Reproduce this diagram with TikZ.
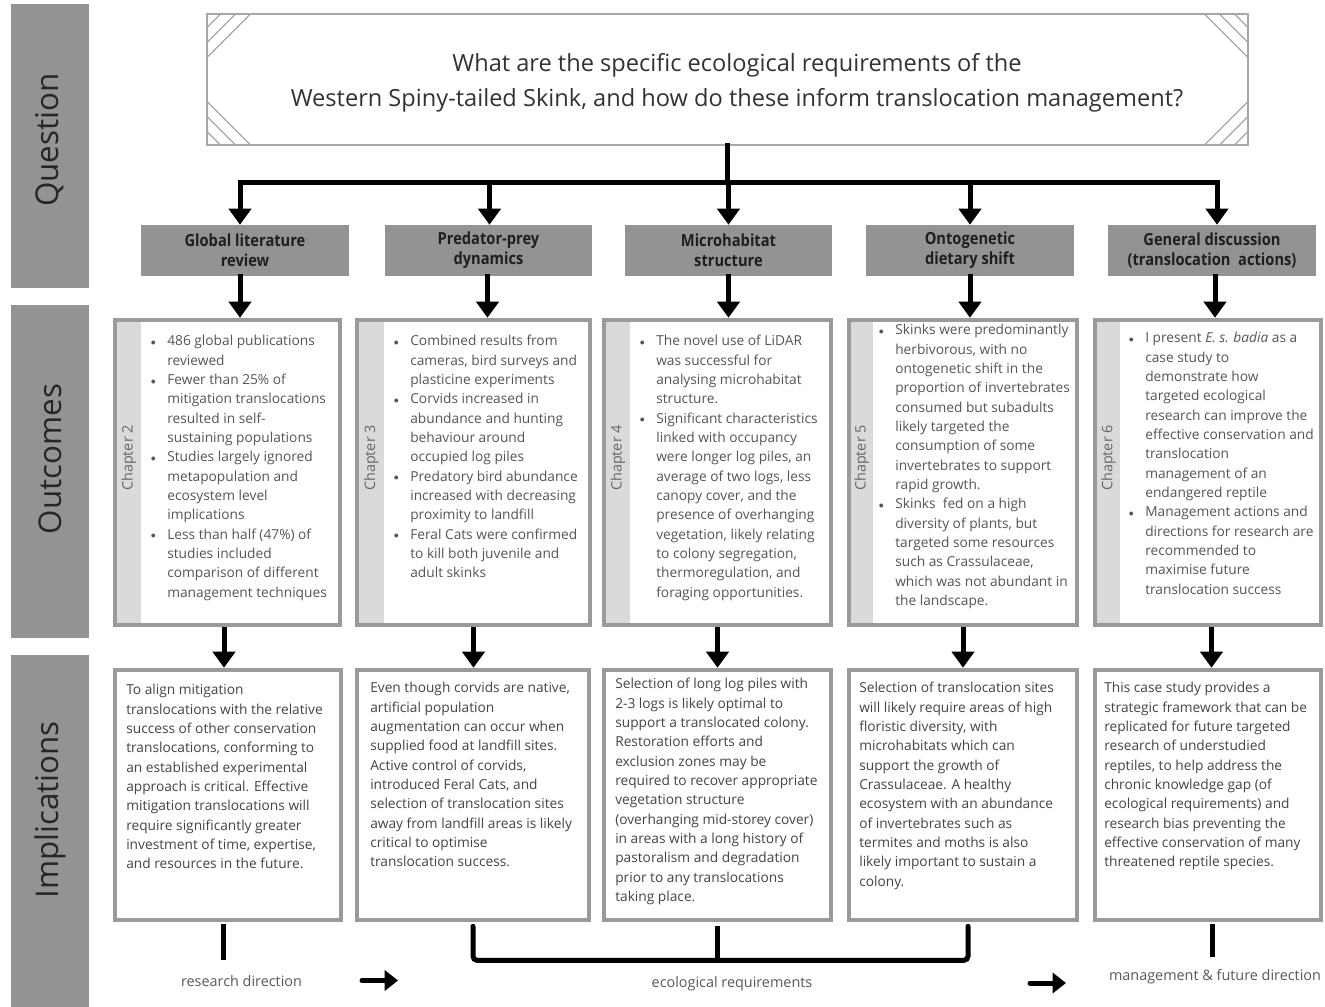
\documentclass[tikz,border=0pt]{standalone}
\usepackage{fontspec}
\setmainfont{Open Sans}
\newfontfamily\hdfont[FakeStretch=0.88]{Open Sans}
\usetikzlibrary{arrows.meta,calc,fit}
\definecolor{barcol}{HTML}{939393}
\definecolor{boxedge}{HTML}{9A9A9A}
\definecolor{stripcol}{HTML}{DADADA}
\definecolor{qedge}{HTML}{A8A8A8}
\definecolor{outtxt}{HTML}{555555}
\definecolor{imptxt}{HTML}{444444}
\newcommand\bul{\makebox[12.4pt][l]{\raisebox{0.05ex}{\scalebox{0.75}{$\bullet$}}}}
\newcommand\ind{\makebox[12.4pt]{}}
\tikzset{
  bar/.style={fill=barcol, inner sep=0pt, draw=none},
  sidelbl/.style={rotate=90, font=\fontsize{23.5pt}{28pt}\selectfont, text=black!85},
  hdr/.style={fill=barcol, inner sep=0pt},
  hdrtxt/.style={align=center, font=\hdfont\bfseries\fontsize{12.5pt}{15pt}\selectfont, text=black!88},
  obox/.style={draw=boxedge, line width=3.4pt, inner sep=0pt},
  stripbox/.style={fill=stripcol, inner sep=0pt},
  chap/.style={rotate=90, font=\fontsize{10.8pt}{12pt}\selectfont, text=black!60},
  otxt/.style={anchor=north west, inner sep=0pt, align=left, font=\fontsize{10.3pt}{14.5pt}\selectfont, text=outtxt},
  itxt/.style={anchor=north west, inner sep=0pt, align=left, font=\fontsize{10.3pt}{14.5pt}\selectfont, text=imptxt},
  lbl/.style={inner sep=0pt, font=\fontsize{10.8pt}{12pt}\selectfont, text=black!65},
  conn/.style={line width=3.75pt, black, line cap=rect},
  arr/.style={conn, -{Triangle[width=16.5pt,length=12pt]}},
  arrsmall/.style={line width=3.75pt, black, line cap=round, -{Triangle[width=15pt,length=10pt]}},
  hatch/.style={draw=qedge, line width=1pt}
}
\begin{document}
\begin{tikzpicture}[x=0.75pt,y=-0.75pt]
\useasboundingbox (0,0) rectangle (1325,1007);
\fill[white] (0,0) rectangle (1325,1007);

% side bars
\node[bar, fit={(11,4) (89,288)}] (sbq) {};
\node[bar, fit={(11,305) (89,638)}] (sbo) {};
\node[bar, fit={(11,655) (89,1007)}] (sbi) {};
\node[sidelbl] (lq) at (50,140) {Question};
\node[sidelbl] (lo) at (50,459) {Outcomes};
\node[sidelbl] (li) at (50,810) {Implications};

% question box
\node[draw=qedge, line width=1.1pt, inner sep=0pt, fit={(207,14) (1248,145)}] (q) {};
\foreach \d in {15,30,45}{
  \draw[hatch] ($(q.north west)+(0,\d)$) -- ($(q.north west)+(\d,0)$);
  \draw[hatch] ($(q.south west)+(0,-\d)$) -- ($(q.south west)+(\d,0)$);
  \draw[hatch] ($(q.north east)+(0,\d)$) -- ($(q.north east)+(-\d,0)$);
  \draw[hatch] ($(q.south east)+(0,-\d)$) -- ($(q.south east)+(-\d,0)$);
}
\node[font=\fontsize{17.7pt}{26.25pt}\selectfont, text=black!80, align=center] (qt) at (737,83)
 {What are the specific ecological requirements of the\\Western Spiny-tailed Skink, and how do these inform translocation management?};

% header boxes
\node[hdr, fit={(141,225) (349,276)}] (h1) {};
\node[hdr, fit={(385,225) (592,276)}] (h2) {};
\node[hdr, fit={(625,225) (832,276)}] (h3) {};
\node[hdr, fit={(866,225) (1074,276)}] (h4) {};
\node[hdr, fit={(1108,225) (1316,276)}] (h5) {};
\node[hdrtxt] (ht1) at (h1.center) {Global literature\\review};
\node[hdrtxt] (ht2) at (h2.center) {Predator-prey\\dynamics};
\node[hdrtxt] (ht3) at (h3.center) {Microhabitat\\structure};
\node[hdrtxt] (ht4) at (h4.center) {Ontogenetic\\dietary shift};
\node[hdrtxt] (ht5) at (h5.center) {General discussion\\(translocation\ \ actions)};

% tree
\coordinate (t1) at ($(h1.north)+(-5,0)$);
\coordinate (t2) at ($(h2.north)+(1,0)$);
\coordinate (t3) at ($(h3.north)+(0,0)$);
\coordinate (t4) at ($(h4.north)+(0,0)$);
\coordinate (t5) at ($(h5.north)+(5,0)$);
\coordinate (hl) at ($(t1)+(0,-42)$);
\coordinate (hr) at ($(t5)+(0,-42)$);
\draw[conn] (q.south) -- (q.south |- hl);
\draw[conn] (hl) -- (hr);
\foreach \k in {1,...,5}{ \draw[arr] (t\k |- hl) -- (t\k); }

% outcome boxes
\node[obox, fit={(115,320) (340,625)}] (o1) {};
\node[obox, fit={(357,320) (590,625)}] (o2) {};
\node[obox, fit={(604,320) (831,625)}] (o3) {};
\node[obox, fit={(849,320) (1077,625)}] (o4) {};
\node[obox, fit={(1095,320) (1321,625)}] (o5) {};
\node[stripbox, fit={(117,322) (141,623)}] (s1) {};
\node[stripbox, fit={(359,322) (384,623)}] (s2) {};
\node[stripbox, fit={(606,322) (630,623)}] (s3) {};
\node[stripbox, fit={(851,322) (873,623)}] (s4) {};
\node[stripbox, fit={(1097,322) (1120,623)}] (s5) {};
\node[chap] (c2l) at (s1.center |- 0,458) {Chapter 2};
\node[chap] (c3l) at (s2.center |- 0,458) {Chapter 3};
\node[chap] (c4l) at (s3.center |- 0,458) {Chapter 4};
\node[chap] (c5l) at (s4.center |- 0,458) {Chapter 5};
\node[chap] (c6l) at (s5.center |- 0,458) {Chapter 6};

\node[otxt] (ot1) at (150.5,335) {\bul 486 global publications\\\ind reviewed\\\bul Fewer than 25\% of\\\ind mitigation translocations\\\ind resulted in self-\\\ind sustaining populations\\\bul Studies largely ignored\\\ind metapopulation and\\\ind ecosystem level\\\ind implications\\\bul Less than half (47\%) of\\\ind studies included\\\ind comparison of different\\\ind management techniques};
\node[otxt] (ot2) at (393.5,335) {\bul Combined results from\\\ind cameras, bird surveys and\\\ind plasticine experiments\\\bul Corvids increased in\\\ind abundance and hunting\\\ind behaviour around\\\ind occupied log piles\\\bul Predatory bird abundance\\\ind increased with decreasing\\\ind proximity to landfill\\\bul Feral Cats were confirmed\\\ind to kill both juvenile and\\\ind adult skinks};
\node[otxt] (ot3) at (639.5,335) {\bul The novel use of LiDAR\\\ind was successful for\\\ind analysing microhabitat\\\ind structure.\\\bul Significant characteristics\\\ind linked with occupancy\\\ind were longer log piles, an\\\ind average of two logs, less\\\ind canopy cover, and the\\\ind presence of overhanging\\\ind vegetation, likely relating\\\ind to colony segregation,\\\ind thermoregulation, and\\\ind foraging opportunities.};
\node[otxt] (ot4) at (878.5,324) {\bul Skinks were predominantly\\\ind herbivorous, with no\\\ind ontogenetic shift in the\\\ind proportion of invertebrates\\\ind consumed but subadults\\\ind likely targeted the\\\ind consumption of some\\\ind invertebrates to support\\\ind rapid growth.\\\bul Skinks\ \ fed on a high\\\ind diversity of plants, but\\\ind targeted some resources\\\ind such as Crassulaceae,\\\ind which was not abundant in\\\ind the landscape.};
\node[otxt] (ot5) at (1128.5,332) {\bul I present \textit{E. s. badia} as a\\\ind case study to\\\ind demonstrate how\\\ind targeted ecological\\\ind research can improve the\\\ind effective conservation and\\\ind translocation\\\ind management of an\\\ind endangered reptile\\\bul Management actions and\\\ind directions for research are\\\ind recommended to\\\ind maximise future\\\ind translocation success};

% implication boxes
\node[obox, fit={(115,670) (341,920)}] (i1) {};
\node[obox, fit={(357,670) (589,920)}] (i2) {};
\node[obox, fit={(604,670) (831,920)}] (i3) {};
\node[obox, fit={(849,670) (1077,920)}] (i4) {};
\node[obox, fit={(1095,670) (1321,920)}] (i5) {};

\node[itxt] (it1) at (126,684) {To align mitigation\\translocations with the relative\\success of other conservation\\translocations, conforming to\\an established experimental\\approach is critical. Effective\\mitigation translocations will\\require significantly greater\\investment of time, expertise,\\and resources in the future.};
\node[itxt] (it2) at (370,682) {Even though corvids are native,\\artificial population\\augmentation can occur when\\supplied food at landfill sites.\\Active control of corvids,\\introduced Feral Cats, and\\selection of translocation sites\\away from landfill areas is likely\\critical to optimise\\translocation success.};
\node[itxt] (it3) at (615,678) {Selection of long log piles with\\2-3 logs is likely optimal to\\support a translocated colony.\\Restoration efforts and\\exclusion zones may be\\required to recover appropriate\\vegetation structure\\(overhanging mid-storey cover)\\in areas with a long history of\\pastoralism and degradation\\prior to any translocations\\taking place.};
\node[itxt] (it4) at (859,682) {Selection of translocation sites\\will likely require areas of high\\floristic diversity, with\\microhabitats which can\\support the growth of\\Crassulaceae. A healthy\\ecosystem with an abundance\\of invertebrates such as\\termites and moths is also\\likely important to sustain a\\colony.};
\node[itxt] (it5) at (1104,682) {This case study provides a\\strategic framework that can be\\replicated for future targeted\\research of understudied\\reptiles, to help address the\\chronic knowledge gap (of\\ecological requirements) and\\research bias preventing the\\effective conservation of many\\threatened reptile species.};

% header -> outcome arrows
\coordinate (a1) at ($(h1.south)+(-5,0)$);
\coordinate (a2) at ($(h2.south)+(-1,0)$);
\coordinate (a3) at ($(h3.south)+(0,0)$);
\coordinate (a4) at ($(h4.south)+(0,0)$);
\coordinate (a5) at ($(h5.south)+(3,0)$);
\draw[arr] (a1) -- (a1 |- o1.north);
\draw[arr] (a2) -- (a2 |- o2.north);
\draw[arr] (a3) -- (a3 |- o3.north);
\draw[arr] (a4) -- (a4 |- o4.north);
\draw[arr] (a5) -- (a5 |- o5.north);

% outcome -> implication arrows
\coordinate (b1) at ($(o1.south)+(-3.5,2)$);
\coordinate (b2) at ($(o2.south)+(0,2)$);
\coordinate (b3) at ($(o3.south)+(0,2)$);
\coordinate (b4) at ($(o4.south)+(0,2)$);
\coordinate (b5) at ($(o5.south)+(3.5,2)$);
\draw[arr] (b1) -- (b1 |- i1.north);
\draw[arr] (b2) -- (b2 |- i2.north);
\draw[arr] (b3) -- (b3 |- i3.north);
\draw[arr] (b4) -- (b4 |- i4.north);
\draw[arr] (b5) -- (b5 |- i5.north);

% bottom connectors
\coordinate (d1) at ($(i1.south)+(-5,4)$);
\coordinate (d1e) at ($(d1)+(0,31)$);
\draw[conn] (d1) -- (d1e);
\coordinate (d2) at ($(i2.south)+(0,4)$);
\coordinate (d4) at ($(i4.south)+(5,4)$);
\draw[line width=3.75pt, line cap=round, rounded corners=3pt] (d2) -- ++(0,34) -| (d4);
\coordinate (d3) at ($(i3.south)+(0,6)$);
\coordinate (d3e) at ($(d3)+(0,27)$);
\draw[conn] (d3) -- (d3e);
\coordinate (d5) at ($(i5.south)+(4,4)$);
\coordinate (d5e) at ($(d5)+(0,28)$);
\draw[conn] (d5) -- (d5e);

% bottom labels and small arrows
\node[lbl] (l1) at (241.5,981) {research direction};
\node[lbl] (l2) at (732,984) {ecological requirements};
\node[lbl] (l3) at (1215,977) {management \& future direction};
\coordinate (r1s) at (362,980.5);
\coordinate (r1e) at (398,980.5);
\draw[arrsmall] (r1s) -- (r1e);
\coordinate (r2s) at (1030,983);
\coordinate (r2e) at (1066,983);
\draw[arrsmall] (r2s) -- (r2e);
\end{tikzpicture}
\end{document}
